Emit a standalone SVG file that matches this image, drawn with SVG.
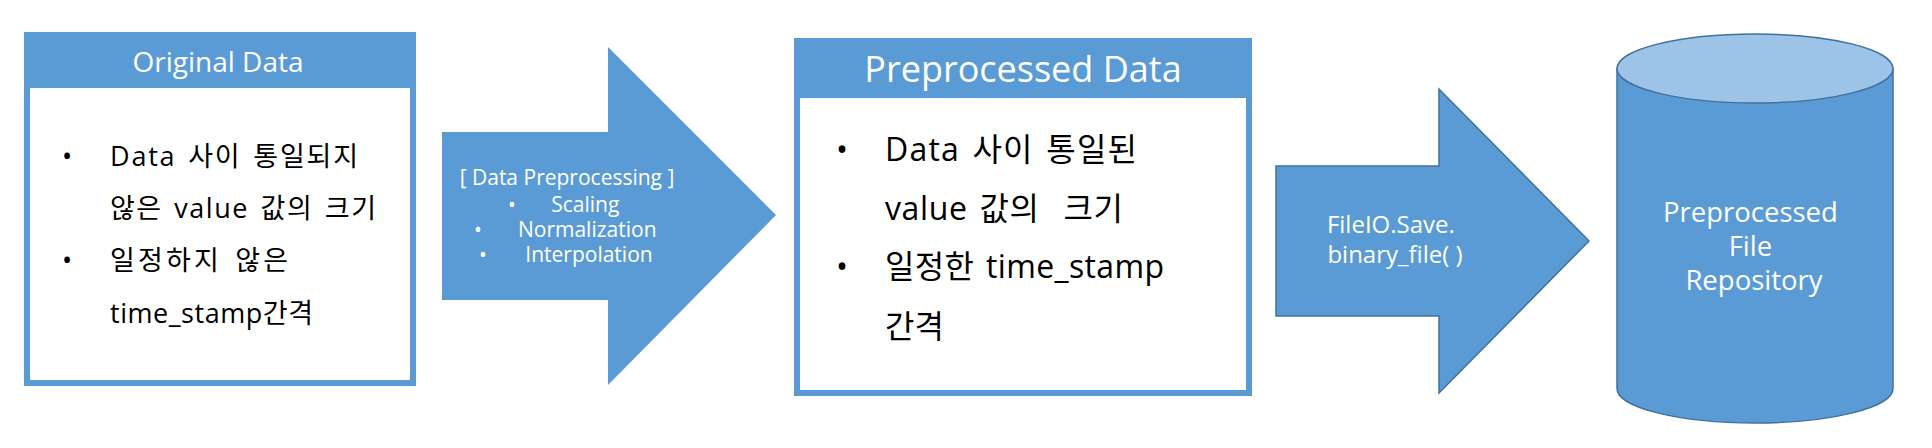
<svg xmlns="http://www.w3.org/2000/svg" width="1932" height="448" viewBox="0 0 1932 448">
<style>
.bg{fill:#ffffff}
.blue{fill:#5B9BD5}
.light{fill:#9DC3E6}
.edge{stroke:#41719C;stroke-width:1.5}
.inner{fill:#ffffff}
.wt{fill:#ffffff;font-family:"Open Sans","Noto Sans CJK KR",sans-serif}
.bk{fill:#000000;font-family:"Open Sans","Noto Sans CJK KR",sans-serif;white-space:pre}
.mid{text-anchor:middle}
.s1{font-size:27px;word-spacing:3px}
.s3{font-size:32px;word-spacing:3px}
</style>
<rect class="bg" x="0" y="0" width="1932" height="448"/>
<g id="original-data">
<rect class="blue" x="24" y="32" width="392" height="354"/>
<rect class="inner" x="30" y="88" width="380" height="292"/>
<text class="wt mid" x="218" y="72" font-size="28">Original Data</text>
<text class="bk s1" x="62" y="166">•</text>
<text class="bk s1" x="110" y="166" textLength="248" lengthAdjust="spacing">Data 사이 통일되지</text>
<text class="bk s1" x="110" y="218" textLength="266" lengthAdjust="spacing">않은 value 값의 크기</text>
<text class="bk s1" x="62" y="270">•</text>
<text class="bk s1" x="110" y="270" textLength="178" lengthAdjust="spacing">일정하지 않은</text>
<text class="bk s1" x="110" y="323" textLength="203" lengthAdjust="spacing">time_stamp간격</text>
</g>
<g id="connectors">
<g id="preprocessing-arrow">
<polygon class="blue" points="442,132 608,132 608,47 776,215 608,385 608,300 442,300"/>
<text class="wt mid" x="567" y="185" font-size="21">[ Data Preprocessing ]</text>
<text class="wt" font-size="21">
<tspan x="508" y="212">•</tspan><tspan class="mid" x="588" y="212">Scaling</tspan>
<tspan x="474" y="237">•</tspan><tspan class="mid" x="590" y="237">Normalization</tspan>
<tspan x="479" y="262">•</tspan><tspan class="mid" x="589" y="262">Interpolation</tspan>
</text>
</g>
<g id="save-arrow">
<polygon class="blue edge" points="1276,166 1439,166 1439,89 1589,241 1439,393 1439,316 1276,316"/>
<text class="wt mid" font-size="24">
<tspan x="1394" y="233">FileIO.Save.</tspan>
<tspan x="1395" y="263">binary_file( )</tspan>
</text>
</g>
</g>
<g id="preprocessed-data">
<rect class="blue" x="794" y="38" width="458" height="358"/>
<rect class="inner" x="800" y="98" width="446" height="292"/>
<text class="wt mid" x="1023" y="82" font-size="36">Preprocessed Data</text>
<text class="bk s3" x="836" y="161">•</text>
<text class="bk s3" x="885" y="161" textLength="252" lengthAdjust="spacing">Data 사이 통일된</text>
<text class="bk s3" x="885" y="220" textLength="238" lengthAdjust="spacing">value 값의  크기</text>
<text class="bk s3" x="836" y="278">•</text>
<text class="bk s3" x="885" y="278" textLength="279" lengthAdjust="spacing">일정한 time_stamp</text>
<text class="bk s3" x="885" y="338">간격</text>
</g>
<g id="repository">
<path class="blue edge" d="M1617,68.5 L1617,388.5 A138,34.5 0 0 0 1893,388.5 L1893,68.5 Z"/>
<ellipse class="light edge" cx="1755" cy="68.5" rx="138" ry="34.5"/>
<text class="wt mid" font-size="27.5">
<tspan x="1754" y="222">Preprocessed</tspan>
<tspan x="1754" y="256">File</tspan>
<tspan x="1754" y="290">Repository</tspan>
</text>
</g>
</svg>
